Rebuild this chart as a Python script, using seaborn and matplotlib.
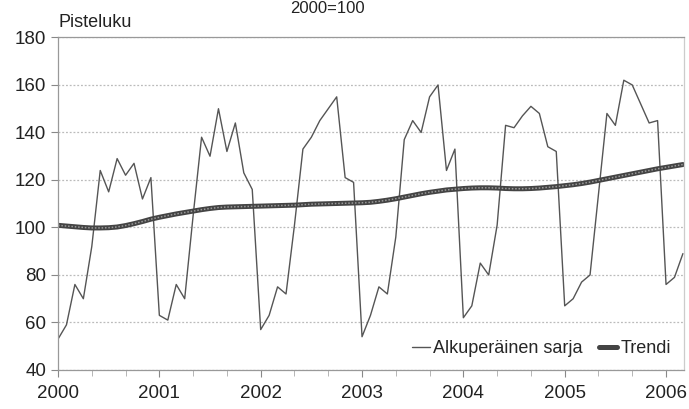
import numpy as np
import pandas as pd
import seaborn as sns
import matplotlib
matplotlib.use("Agg")
from matplotlib import pyplot as plt

# monthly index values, Jan 2000 .. Mar 2006
original = [
    53, 59, 76, 70, 92, 124, 115, 129, 122, 127, 112, 121,   # 2000
    63, 61, 76, 70, 105, 138, 130, 150, 132, 144, 123, 116,  # 2001
    57, 63, 75, 72, 101, 133, 138, 145, 150, 155, 121, 119,  # 2002
    54, 63, 75, 72, 96, 137, 145, 140, 155, 160, 124, 133,   # 2003
    62, 67, 85, 80, 101, 143, 142, 147, 151, 148, 134, 132,  # 2004
    67, 70, 77, 80, 114, 148, 143, 162, 160, 152, 144, 145,  # 2005
    76, 79, 89,                                              # 2006
]
trend = [
    100.9, 100.6, 100.3, 100.0, 99.8, 99.8, 99.9, 100.2, 100.8, 101.6, 102.5, 103.5,
    104.3, 105.0, 105.7, 106.3, 106.9, 107.5, 108.0, 108.4, 108.6, 108.7, 108.8, 108.9,
    109.0, 109.1, 109.2, 109.3, 109.4, 109.6, 109.8, 109.9, 110.0, 110.1, 110.2, 110.3,
    110.4, 110.6, 111.0, 111.5, 112.1, 112.8, 113.5, 114.2, 114.8, 115.3, 115.8, 116.1,
    116.4, 116.6, 116.7, 116.7, 116.6, 116.4, 116.3, 116.3, 116.4, 116.6, 116.9, 117.2,
    117.6, 118.0, 118.5, 119.1, 119.8, 120.5, 121.2, 121.9, 122.6, 123.3, 124.0, 124.7,
    125.3, 125.9, 126.5,
]
years = [2000, 2001, 2002, 2003, 2004, 2005, 2006]
y_ticks = [40, 60, 80, 100, 120, 140, 160, 180]

t = 2000 + np.arange(len(original)) / 12
df = pd.DataFrame({"t": t, "original": original, "trend": trend})

sns.set_style("white")
plt.rcParams['font.family'] = ['Liberation Sans Narrow', 'Liberation Sans', 'DejaVu Sans']

fig = plt.figure(figsize=(6.89, 4.09), dpi=100)
ax = fig.add_axes([0.0842, 0.0954, 0.9085, 0.813])

sns.lineplot(data=df, x="t", y="original", ax=ax, color="#555555", linewidth=1.0,
             label="Alkuperäinen sarja")
sns.lineplot(data=df, x="t", y="trend", ax=ax, color="#444444", linewidth=3.6,
             label="Trendi")
# beaded texture of the trend line
sns.lineplot(data=df, x="t", y="trend", ax=ax, color="#9a9a9a", linewidth=1.1,
             linestyle=(0, (1, 1.2)), legend=False)

ax.set_xlim(2000, 2006.177)
ax.set_ylim(40, 180)
ax.set_yticks(y_ticks)
ax.set_xticks(years)
ax.set_xticks(np.arange(2000, 2006.2, 1 / 3), minor=True)
ax.tick_params(axis="both", which="major", labelsize=13.5, length=5, color="#888888",
               direction="out", colors="#222222")
ax.tick_params(axis="x", which="minor", length=4, color="#aaaaaa", direction="out")
ax.tick_params(axis="x", which="major", pad=6)
ax.xaxis.set_tick_params(bottom=True, which="both")
ax.yaxis.set_tick_params(left=True)
ax.set_xlabel("")
ax.set_ylabel("")

ax.grid(axis="y", linestyle=(0, (1.5, 1.5)), color="#bbbbbb", linewidth=0.9)
for side in ["left", "top", "bottom", "right"]:
    ax.spines[side].set_color("#999999")
    ax.spines[side].set_linewidth(0.9)
ax.spines["right"].set_color("#cccccc")

leg = ax.legend(loc="lower right", bbox_to_anchor=(1.0, 0.0), ncol=2, frameon=False,
                fontsize=13, handlelength=1.0, handletextpad=0.2, columnspacing=0.9,
                borderaxespad=0.3)

fig.text(0.085, 0.945, "Pisteluku", fontsize=13, ha="left", va="center", color="#222222")
fig.text(0.475, 0.968, "2000=100", fontsize=12, ha="center", va="baseline", color="#222222")

fig.savefig("out.png", dpi=100)
